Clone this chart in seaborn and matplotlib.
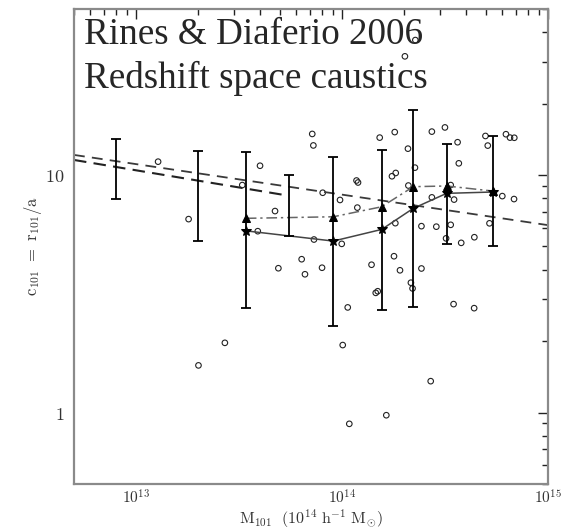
import numpy as np
import pandas as pd
import matplotlib
matplotlib.use("Agg")
import matplotlib.pyplot as plt
import seaborn as sns

# ---- data ----
circ_M = [1.28e13, 1.80e13, 3.28e13, 4.00e13, 3.90e13, 4.73e13, 4.91e13, 6.37e13, 6.61e13, 2.70e13,
          2.01e13, 7.17e13, 7.26e13, 1.176e14, 1.196e14, 8.06e13, 9.78e13, 1.187e14, 1.524e14, 1.803e14,
          2.09e14, 1.823e14, 1.748e14, 2.26e14, 2.10e14, 7.31e13, 9.97e13, 8.00e13, 1.391e14, 1.815e14,
          1.788e14, 1.912e14, 1.458e14, 1.491e14, 2.16e14, 2.20e14, 1.066e14, 1.008e14, 1.085e14, 1.641e14,
          2.695e14, 2.43e14, 2.87e14, 2.43e14, 2.73e14, 3.37e14, 3.50e14, 3.37e14, 3.20e14, 3.79e14,
          4.39e14, 3.48e14, 4.38e14, 5.20e14, 6.00e14, 6.84e14, 2.27e14, 2.02e14, 2.73e14, 3.16e14,
          3.64e14, 3.69e14, 4.97e14, 5.10e14, 6.25e14, 6.54e14, 6.86e14]
circ_c = [11.38, 6.52, 9.07, 10.94, 5.80, 7.05, 4.05, 4.42, 3.82, 1.965,
          1.579, 14.89, 13.32, 9.48, 9.30, 8.42, 7.85, 7.29, 14.37, 15.16,
          12.91, 10.20, 9.88, 10.74, 9.03, 5.35, 5.13, 4.07, 4.19, 6.27,
          4.55, 3.97, 3.19, 3.24, 3.52, 3.33, 2.77, 1.923, 0.896, 0.974,
          1.355, 6.09, 6.06, 4.04, 8.05, 9.07, 7.88, 6.17, 5.41, 5.18,
          5.47, 2.86, 2.75, 6.26, 8.15, 7.92, 37.0, 31.6, 15.23, 15.86,
          13.74, 11.20, 14.60, 13.30, 14.85, 14.37, 14.35]

eb_M = [8.0e12, 1.99e13, 3.41e13, 5.51e13, 9.07e13, 1.558e14, 2.22e14, 3.22e14, 5.39e14]
eb_lo = [7.90, 5.27, 2.75, 5.53, 2.32, 2.71, 2.77, 5.10, 5.03]
eb_hi = [14.15, 12.66, 12.50, 10.0, 11.95, 12.75, 18.8, 13.51, 14.60]

bin_M = [3.41e13, 9.07e13, 1.558e14, 2.22e14, 3.22e14, 5.39e14]
star_c = [5.82, 5.27, 5.90, 7.24, 8.37, 8.48]
tri_c = [6.57, 6.67, 7.35, 8.93, 8.99, 8.56]

dashA_M = [5e12, 1e15]
dashA_c = [12.15, 6.15]
dashB_M = [5e12, 5.51e13]
dashB_c = [11.57, 8.18]

xtick_vals = [1e13, 1e14, 1e15]
xtick_labels = [r"$10^{13}$", r"$10^{14}$", r"$10^{15}$"]
ytick_vals = [1, 10]
ytick_labels = [r"$1$", r"$10$"]

title_lines = ["Rines & Diaferio 2006", "Redshift space caustics"]

# ---- style ----
sns.set_style("white")
plt.rcParams["font.family"] = ["DejaVu Serif"]
plt.rcParams["mathtext.fontset"] = "cm"

fig = plt.figure(figsize=(5.71, 5.30), dpi=100)
ax = fig.add_axes([74 / 571, 46 / 530, 474 / 571, 475 / 530])

df_c = pd.DataFrame({"M": circ_M, "c": circ_c})
df_a = pd.DataFrame({"M": dashA_M, "c": dashA_c})
df_b = pd.DataFrame({"M": dashB_M, "c": dashB_c})
df_s = pd.DataFrame({"M": bin_M, "c": star_c})
df_t = pd.DataFrame({"M": bin_M, "c": tri_c})

sns.lineplot(data=df_a, x="M", y="c", ax=ax, color="#3a3a3a", lw=1.3,
             linestyle=(0, (6, 4)), estimator=None, sort=False)
sns.lineplot(data=df_b, x="M", y="c", ax=ax, color="#222222", lw=1.5,
             linestyle=(0, (6, 3.5)), estimator=None, sort=False)
sns.lineplot(data=df_t, x="M", y="c", ax=ax, color="#666666", lw=1.1,
             linestyle=(0, (7, 2.5, 1.5, 2.5)), estimator=None, sort=False,
             marker="^", markersize=5.5, markerfacecolor="black", markeredgecolor="black")
sns.lineplot(data=df_s, x="M", y="c", ax=ax, color="#444444", lw=1.1,
             estimator=None, sort=False,
             marker="*", markersize=7, markerfacecolor="black", markeredgecolor="black")

eb_M_a = np.array(eb_M)
lo = np.array(eb_lo)
hi = np.array(eb_hi)
mid = np.sqrt(lo * hi)
ax.errorbar(eb_M_a, mid, yerr=[mid - lo, hi - mid], fmt="none", ecolor="black",
            elinewidth=1.3, capsize=3.8, capthick=1.3)

sns.scatterplot(data=df_c, x="M", y="c", ax=ax, marker="o", s=16,
                facecolor="none", edgecolor="#222222", linewidth=0.8)

ax.set_xscale("log")
ax.set_yscale("log")
ax.set_xlim(5e12, 1e15)
ax.set_ylim(0.5, 50)

ax.set_xticks(xtick_vals)
ax.set_xticklabels(xtick_labels, fontsize=11)
ax.set_yticks(ytick_vals)
ax.set_yticklabels(ytick_labels, fontsize=13)

ax.tick_params(which="both", direction="in", top=True, right=True, color="#222222")
ax.tick_params(axis="x", which="major", pad=3.5)
ax.tick_params(axis="y", which="major", pad=7)
ax.tick_params(which="major", length=7.5, width=1.0, labelcolor="#333333")
ax.tick_params(which="minor", length=4.3, width=1.0)
for s in ax.spines.values():
    s.set_color("#8a8a8a")
    s.set_linewidth(1.6)

ax.set_xlabel(r"$\mathrm{M_{101}\ \ (10^{14}\ h^{-1}\ M_{\odot})}$", fontsize=11.5, color="#333333")
ax.xaxis.set_label_coords(0.5, -0.05)
ax.set_ylabel(r"$\mathrm{c_{101}\ =\ r_{101}/a}$", fontsize=12, color="#333333")
ax.yaxis.set_label_coords(-0.063, 0.5)

fig.text(84 / 571, (530 - 44.3) / 530, title_lines[0], fontsize=26.7,
         family=["Liberation Serif"], va="baseline", ha="left")
fig.text(84 / 571, (530 - 88.5) / 530, title_lines[1], fontsize=26.7,
         family=["Liberation Serif"], va="baseline", ha="left")

fig.savefig("out.png", dpi=100, facecolor="white")
